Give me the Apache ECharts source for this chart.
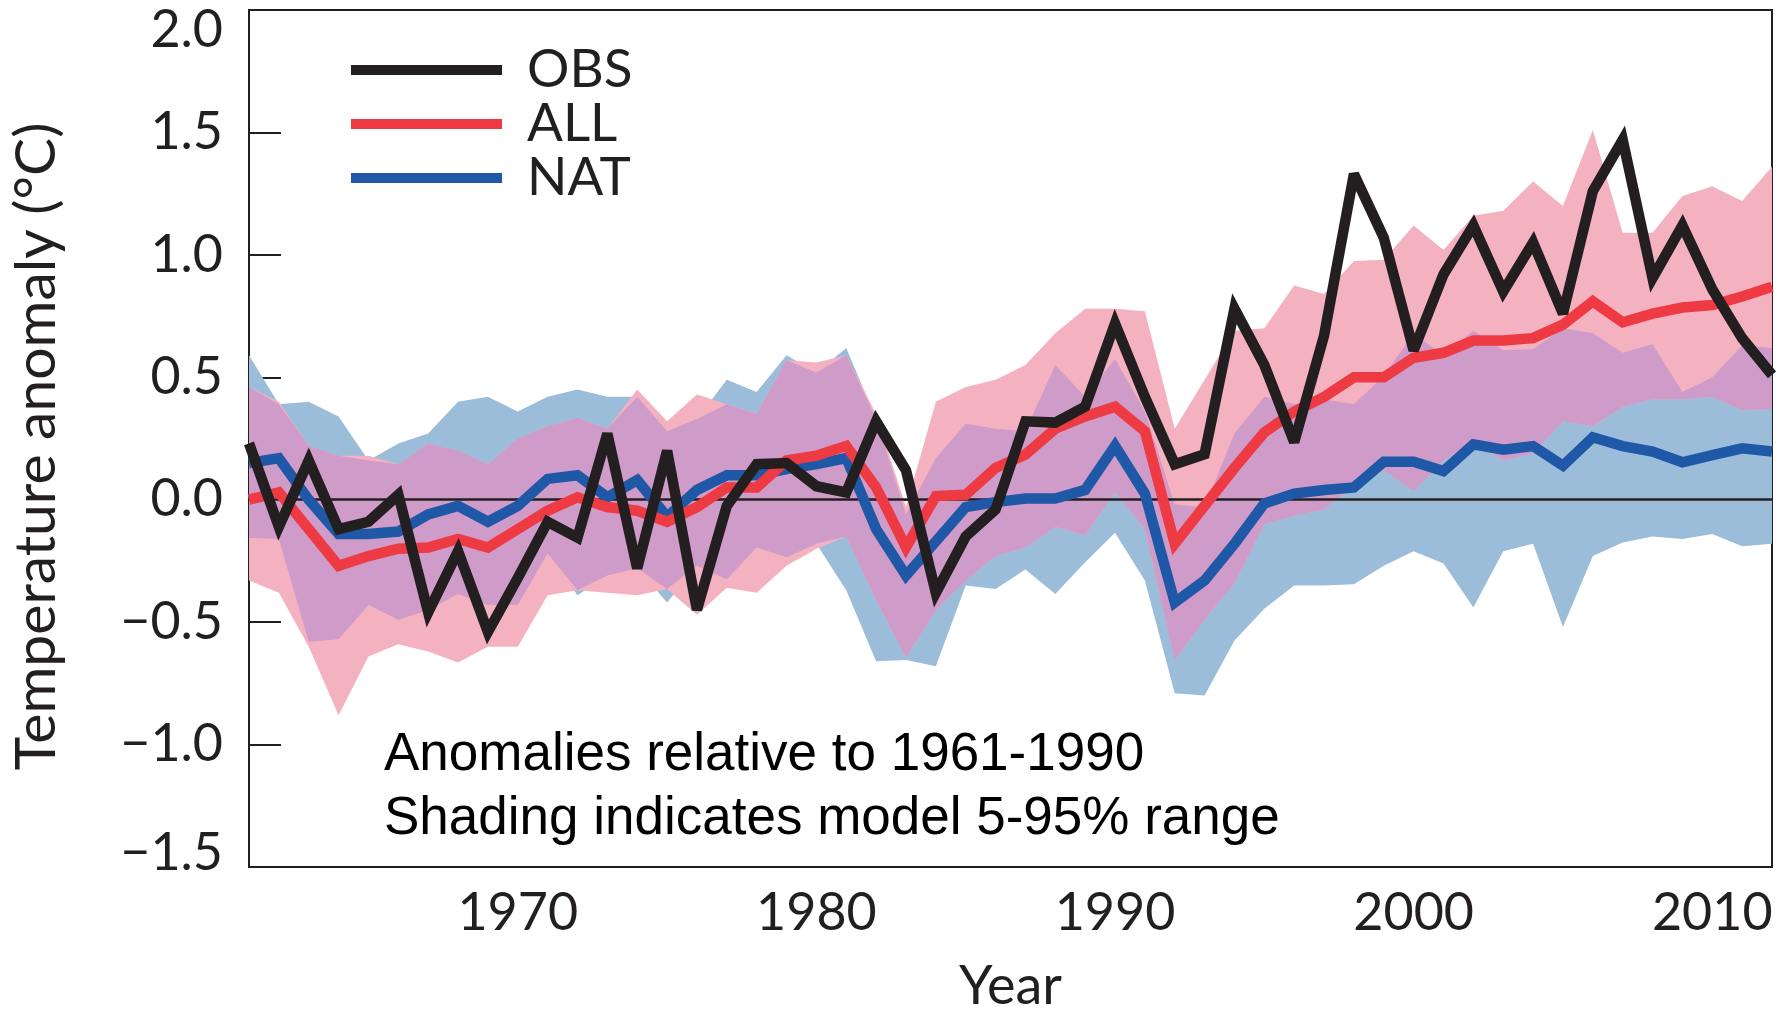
<!DOCTYPE html>
<html>
<head>
<meta charset="utf-8">
<script src="https://cdn.jsdelivr.net/npm/echarts@6/dist/echarts.min.js"></script>
<style>
html,body{margin:0;padding:0;background:#fff;}
#chart{width:1788px;height:1009px;}
</style>
</head>
<body>
<div id="chart"></div>
<script>
const years = [1961,1962,1963,1964,1965,1966,1967,1968,1969,1970,
               1971,1972,1973,1974,1975,1976,1977,1978,1979,1980,
               1981,1982,1983,1984,1985,1986,1987,1988,1989,1990,
               1991,1992,1993,1994,1995,1996,1997,1998,1999,2000,
               2001,2002,2003,2004,2005,2006,2007,2008,2009,2010,
               2011,2012];
const obs = [0.23,-0.11,0.16,-0.12,-0.09,0.02,-0.46,-0.21,-0.54,-0.32,
             -0.09,-0.155,0.27,-0.28,0.20,-0.45,-0.025,0.145,0.15,0.055,
             0.03,0.32,0.12,-0.38,-0.15,-0.04,0.32,0.315,0.38,0.72,
             0.42,0.145,0.186,0.78,0.55,0.235,0.67,1.33,1.07,0.61,
             0.92,1.12,0.85,1.05,0.76,1.26,1.47,0.905,1.12,0.86,
             0.66,0.51];
const allMean = [0.0,0.03,-0.12,-0.27,-0.23,-0.20,-0.195,-0.16,-0.195,-0.12,
                 -0.045,0.01,-0.03,-0.045,-0.09,-0.03,0.05,0.05,0.16,0.18,
                 0.22,0.05,-0.195,0.015,0.02,0.13,0.185,0.29,0.34,0.38,
                 0.28,-0.18,-0.025,0.13,0.275,0.36,0.42,0.50,0.50,0.58,
                 0.60,0.65,0.65,0.66,0.715,0.81,0.725,0.76,0.785,0.795,
                 0.83,0.87];
const natMean = [0.15,0.17,0.0,-0.14,-0.14,-0.13,-0.06,-0.025,-0.09,-0.025,
                 0.085,0.10,0.01,0.08,-0.07,0.04,0.10,0.10,0.125,0.145,
                 0.17,-0.12,-0.31,-0.17,-0.03,-0.01,0.005,0.005,0.04,0.22,
                 0.025,-0.42,-0.33,-0.18,-0.015,0.025,0.04,0.05,0.155,0.155,
                 0.117,0.226,0.204,0.219,0.139,0.255,0.219,0.197,0.153,0.182,
                 0.21,0.197];
const allLo = [-0.33,-0.38,-0.60,-0.88,-0.64,-0.59,-0.62,-0.665,-0.60,-0.60,
               -0.39,-0.37,-0.38,-0.39,-0.365,-0.47,-0.36,-0.38,-0.27,-0.20,
               -0.15,-0.41,-0.645,-0.45,-0.33,-0.23,-0.195,-0.11,-0.145,0.03,
               -0.12,-0.655,-0.49,-0.34,-0.10,-0.065,-0.04,0.057,0.12,0.036,
               0.16,0.24,0.16,0.19,0.32,0.30,0.38,0.41,0.41,0.42,
               0.365,0.37];
const allHi = [0.46,0.40,0.22,0.18,0.18,0.145,0.23,0.20,0.145,0.25,
               0.30,0.335,0.29,0.45,0.32,0.43,0.39,0.35,0.57,0.56,
               0.59,0.35,-0.03,0.40,0.46,0.49,0.55,0.68,0.78,0.78,
               0.77,0.29,0.49,0.69,0.70,0.875,0.84,0.975,0.98,1.12,
               1.02,1.16,1.18,1.30,1.20,1.51,1.09,1.09,1.24,1.28,
               1.22,1.36];
const natLo = [-0.155,-0.16,-0.58,-0.57,-0.43,-0.49,-0.45,-0.385,-0.43,-0.43,
               -0.22,-0.39,-0.31,-0.28,-0.42,-0.27,-0.325,-0.195,-0.235,-0.18,
               -0.37,-0.66,-0.655,-0.68,-0.35,-0.365,-0.285,-0.385,-0.255,-0.135,
               -0.33,-0.79,-0.80,-0.575,-0.445,-0.35,-0.35,-0.345,-0.27,-0.21,
               -0.26,-0.44,-0.21,-0.18,-0.52,-0.23,-0.175,-0.15,-0.16,-0.14,
               -0.19,-0.18];
const natHi = [0.59,0.39,0.40,0.34,0.16,0.23,0.27,0.40,0.42,0.36,
               0.42,0.45,0.42,0.42,0.28,0.33,0.49,0.44,0.59,0.52,
               0.62,0.33,-0.06,0.17,0.31,0.29,0.28,0.55,0.42,0.575,
               0.36,-0.02,-0.03,0.27,0.42,0.39,0.41,0.39,0.505,0.68,
               0.59,0.69,0.61,0.615,0.70,0.68,0.60,0.635,0.44,0.50,
               0.63,0.62];
const xTickYears = [1970,1980,1990,2000,2010];
const seriesNames = ['OBS','ALL','NAT'];

const INK = '#231F20';
const C_OBS = '#231F20', C_ALL = '#EE3A43', C_NAT = '#1F58A6';
const C_PINK = '#F4B2C1', C_BLUE = '#9BBDDA', C_PURPLE = '#CF9BC8';

function pairs(arr){ return years.map((y,i)=>[y,arr[i]]); }

// shaded band drawn as one polygon through the library's coordinate system
function bandSeries(name, lo, hi, color, z){
  return {
    type:'custom', name:name, coordinateSystem:'cartesian2d', silent:true, z:z, clip:true,
    data: years.map((y,i)=>[y, lo[i], hi[i]]),
    encode:{x:0, y:[1,2]},
    renderItem: function(params, api){
      if (params.dataIndex !== 0) return null;
      const upper = years.map((y,i)=>api.coord([y, hi[i]]));
      const lower = years.map((y,i)=>api.coord([y, lo[i]])).reverse();
      return {type:'polygon', shape:{points: upper.concat(lower)}, style:{fill:color, stroke:null}};
    }
  };
}
const ovLo = years.map((y,i)=>Math.max(allLo[i], natLo[i]));
const ovHi = years.map((y,i)=>Math.max(Math.min(allHi[i], natHi[i]), Math.max(allLo[i], natLo[i])));

const fmtY = v => (v < 0 ? '\u2212' : '') + Math.abs(v).toFixed(1);
const LBL = {fontFamily:'Lato', fontSize:52, color:INK};
const LW = 10.5;

const chart = echarts.init(document.getElementById('chart'), null, {renderer:'canvas'});
const option = {
  animation:false,
  backgroundColor:'#fff',
  grid:{left:249, right:16, top:10, bottom:142, show:true, borderColor:INK, borderWidth:2,
        backgroundColor:'transparent', outerBoundsMode:'none', containLabel:false},
  legend:{
    data:seriesNames, orient:'vertical', left:351, top:43, padding:0, itemGap:0,
    itemWidth:151, itemHeight:10, icon:'rect', selectedMode:false,
    textStyle:{fontFamily:'Lato', fontSize:53, color:INK, lineHeight:54, padding:[0,0,0,20]}
  },
  xAxis:{
    type:'value', min:1961, max:2012,
    axisLine:{lineStyle:{color:INK, width:2}},
    axisTick:{inside:true, length:18, customValues:xTickYears, lineStyle:{color:INK, width:2}},
    axisLabel:Object.assign({customValues:xTickYears, margin:20, formatter:v=>String(v)}, LBL),
    splitLine:{show:false},
    name:'Year', nameLocation:'middle', nameGap:93,
    nameTextStyle:{fontFamily:'Lato', fontSize:54, color:INK}
  },
  yAxis:{
    type:'value', min:-1.5, max:2.0, interval:0.5,
    axisLine:{lineStyle:{color:INK, width:2}},
    axisTick:{inside:true, length:32, lineStyle:{color:INK, width:2}},
    axisLabel:Object.assign({
      margin:26,
      formatter:v=>{
        const s = fmtY(v);
        if (v >= 2) return '{top|' + s + '}';
        if (v <= -1.5) return '{bot|' + s + '}';
        return s;
      },
      rich:{
        top:Object.assign({padding:[40,0,0,0]}, LBL),
        bot:Object.assign({padding:[0,0,28,0]}, LBL)
      }
    }, LBL),
    splitLine:{show:false},
    name:'Temperature anomaly (\u00B0C)', nameLocation:'middle', nameGap:184, nameRotate:90,
    nameTextStyle:{fontFamily:'Lato', fontSize:57, color:INK, padding:[0,16,0,0]}
  },
  graphic:[
    {type:'text', left:384, top:729, z:100,
     style:{text:'Anomalies relative to 1961-1990', font:'53px "Liberation Sans", Arial, sans-serif', fill:'#000'}},
    {type:'text', left:384, top:793, z:100,
     style:{text:'Shading indicates model 5-95% range', font:'53px "Liberation Sans", Arial, sans-serif', fill:'#000'}}
  ],
  series:[
    bandSeries('NAT range', natLo, natHi, C_BLUE, 1),
    bandSeries('ALL range', allLo, allHi, C_PINK, 2),
    bandSeries('overlap', ovLo, ovHi, C_PURPLE, 3),
    {name:'NAT', type:'line', data:pairs(natMean), symbol:'none', z:10, color:C_NAT,
     lineStyle:{color:C_NAT, width:LW, join:'miter', miterLimit:3},
     markLine:{silent:true, symbol:'none', label:{show:false}, z:5, animation:false,
               lineStyle:{color:INK, width:2.5, type:'solid'}, data:[{yAxis:0}]}},
    {name:'ALL', type:'line', data:pairs(allMean), symbol:'none', z:11, color:C_ALL,
     lineStyle:{color:C_ALL, width:LW, join:'miter', miterLimit:3}},
    {name:'OBS', type:'line', data:pairs(obs), symbol:'none', z:12, color:C_OBS,
     lineStyle:{color:C_OBS, width:LW, join:'miter', miterLimit:3}}
  ]
};
chart.setOption(option);
</script>
</body>
</html>
